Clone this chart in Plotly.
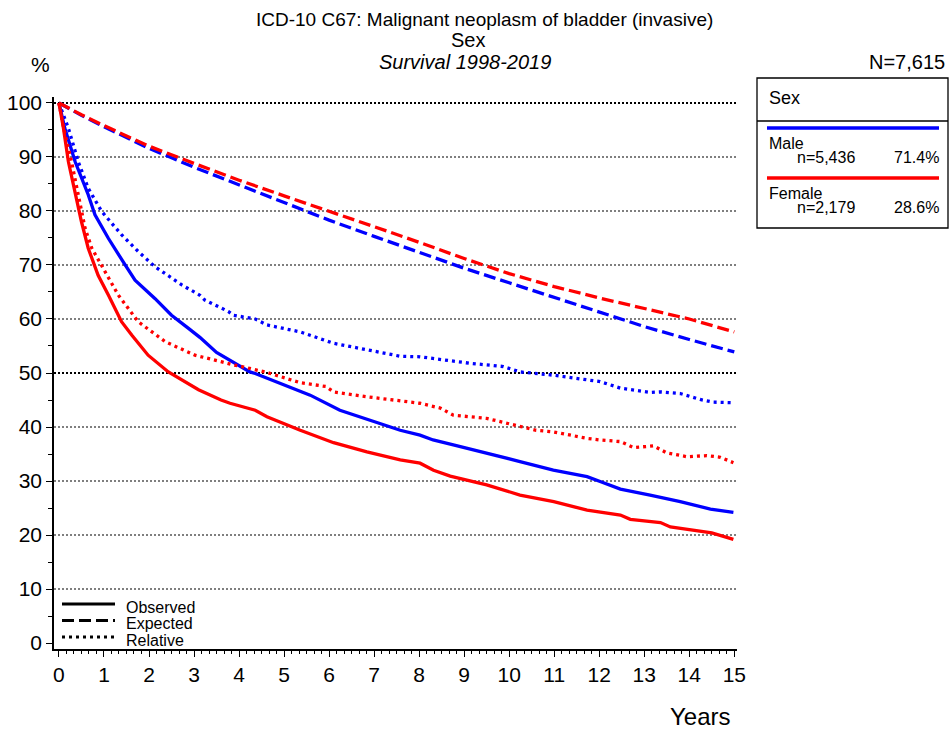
import plotly.graph_objects as go

# ---- survival data (years, percent) ----
male_obs_t = [0, 0.13, 0.36, 0.65, 0.8, 1.10, 1.47, 1.69, 2.13, 2.5, 2.87, 3.13, 3.5, 4.24, 4.36,
              4.91, 5.58, 6.24, 6.91, 7.58, 8.02, 8.31, 8.76, 9.5, 10.24, 10.98, 11.73, 12.02,
              12.47, 13.13, 13.8, 14.47, 14.98]
male_obs = [100, 95.3, 89.1, 83.0, 79.3, 74.9, 70.0, 67.2, 63.8, 60.7, 58.3, 56.6, 53.8, 50.2, 49.9,
            48.1, 45.9, 43.1, 41.3, 39.4, 38.5, 37.6, 36.7, 35.2, 33.6, 32.0, 30.8, 29.9,
            28.5, 27.4, 26.2, 24.8, 24.2]

female_obs_t = [0, 0.1, 0.21, 0.36, 0.5, 0.65, 0.87, 1.1, 1.39, 1.62, 1.98, 2.43, 3.02, 3.1, 3.6,
                3.8, 4.36, 4.62, 5.36, 6.1, 6.84, 7.58, 8.02, 8.32, 8.69, 9.5, 10.24, 10.99,
                11.73, 12.02, 12.47, 12.69, 13.36, 13.58, 14.24, 14.5, 14.98]
female_obs = [100, 95.3, 89.1, 83.0, 78.0, 73.1, 68.1, 64.4, 59.5, 57.0, 53.3, 50.2, 47.2, 46.9, 45.0,
              44.4, 43.1, 41.9, 39.4, 37.1, 35.4, 33.9, 33.3, 32.0, 30.9, 29.3, 27.4, 26.2,
              24.6, 24.3, 23.7, 22.9, 22.3, 21.5, 20.6, 20.4, 19.2]

exp_t = [0, 0.5, 1, 1.5, 2, 3, 4, 5, 6, 7, 8, 9, 10, 11, 12, 13, 14, 15]
male_exp = [100, 97.7, 95.6, 93.6, 91.6, 88.1, 84.8, 81.5, 78.3, 75.3, 72.3, 69.4, 66.7, 64.0,
            61.3, 58.6, 56.2, 53.9]
female_exp = [100, 97.8, 95.8, 93.9, 92.0, 88.8, 85.7, 82.8, 80.0, 77.1, 74.2, 71.2, 68.4, 66.0,
              63.9, 61.9, 60.0, 57.6]

male_rel_t = [0, 0.21, 0.43, 0.65, 0.95, 1.39, 1.76, 2.13, 2.73, 3.13, 3.24, 3.76, 3.87, 4.36, 4.62,
              5.36, 6.1, 6.84, 7.58, 8.02, 8.31, 8.76, 9.13, 9.87, 10.24, 10.98, 11.73, 12.02,
              12.47, 13.13, 13.36, 13.8, 14.24, 14.53, 14.98]
male_rel = [100, 95.3, 89.1, 84.2, 79.9, 75.6, 72.5, 69.7, 66.3, 64.4, 63.5, 61.4, 60.7, 60.0, 58.9,
            57.6, 55.5, 54.3, 53.1, 53.0, 52.7, 52.1, 51.8, 51.2, 50.2, 49.6, 48.7, 48.4,
            47.2, 46.4, 46.5, 46.2, 45.1, 44.6, 44.5]

female_rel_t = [0, 0.1, 0.28, 0.43, 0.58, 0.73, 1.02, 1.32, 1.76, 2.36, 3.02, 3.13, 3.6, 3.87, 4.06,
                4.62, 5.36, 5.93, 6.1, 6.84, 7.58, 8.02, 8.47, 8.76, 9.5, 10.02, 10.6, 10.98,
                11.73, 12.02, 12.47, 12.76, 13.21, 13.5, 13.95, 14.39, 14.69, 14.98]
female_rel = [100, 95.5, 89.1, 83.0, 76.8, 73.1, 68.8, 64.4, 59.5, 55.8, 53.3, 53.1, 52.1, 51.5, 51.2,
              50.1, 48.2, 47.5, 46.5, 45.6, 44.9, 44.4, 43.5, 42.2, 41.6, 40.6, 39.4, 39.1,
              37.9, 37.6, 37.3, 36.2, 36.5, 35.2, 34.5, 34.7, 34.4, 33.4]

groups = ["Male", "Female"]
group_n = ["n=5,436", "n=2,179"]
group_pct = ["71.4%", "28.6%"]
colors = {"Male": "#0000ff", "Female": "#ff0000"}

x_ticks = list(range(0, 16))
y_ticks = list(range(0, 101, 10))

FONT = "Liberation Sans, Arial, sans-serif"
DASH = "12px,5px"
DOT = "3px,4px"

# ---- page geometry (pixels) ----
W, H = 949, 731
L, R, T, B = 54, 212, 97, 82
pw, ph = W - L - R, H - T - B


def px(x):
    return (x - L) / pw


def py(y):
    return (H - B - y) / ph


fig = go.Figure()

# male curves first so the female curves sit on top
for g, t, v, dash in [
    ("Male", exp_t, male_exp, DASH),
    ("Male", male_rel_t, male_rel, DOT),
    ("Male", male_obs_t, male_obs, "solid"),
    ("Female", exp_t, female_exp, DASH),
    ("Female", female_rel_t, female_rel, DOT),
    ("Female", female_obs_t, female_obs, "solid"),
]:
    fig.add_trace(go.Scatter(
        x=t, y=v, mode="lines", showlegend=False, hoverinfo="skip",
        line=dict(color=colors[g], width=3.3, dash=dash),
    ))

shapes = []
# dotted horizontal grid
for yv in y_ticks[1:]:
    bold = yv in (50, 100)
    shapes.append(dict(type="line", xref="paper", yref="y", x0=0, x1=1, y0=yv, y1=yv,
                       line=dict(color="black", width=2 if bold else 1.1, dash="2px,2px"),
                       layer="below"))

# group legend box
shapes.append(dict(type="rect", xref="paper", yref="paper", x0=px(757), x1=px(948),
                   y0=py(78), y1=py(228), line=dict(color="black", width=1.3)))
shapes.append(dict(type="line", xref="paper", yref="paper", x0=px(757), x1=px(948),
                   y0=py(121), y1=py(121), line=dict(color="black", width=1.3)))
ann = []
ann.append(dict(text="Sex", x=px(767), y=py(98), xanchor="left", yanchor="middle",
                font=dict(size=18)))
for i, g in enumerate(groups):
    y0 = 128 + 50 * i
    shapes.append(dict(type="line", xref="paper", yref="paper", x0=px(767), x1=px(939),
                       y0=py(y0), y1=py(y0), line=dict(color=colors[g], width=3.5)))
    ann.append(dict(text=g, x=px(767), y=py(y0 + 15), xanchor="left", yanchor="middle",
                    font=dict(size=16)))
    ann.append(dict(text=group_n[i], x=px(795), y=py(y0 + 29), xanchor="left",
                    yanchor="middle", font=dict(size=16)))
    ann.append(dict(text=group_pct[i], x=px(941), y=py(y0 + 29), xanchor="right",
                    yanchor="middle", font=dict(size=16)))

# line-style key
for i, (lab, dash) in enumerate([("Observed", "solid"), ("Expected", DASH), ("Relative", DOT)]):
    yy = 604 + 16.5 * i
    shapes.append(dict(type="line", xref="paper", yref="paper", x0=px(62), x1=px(115),
                       y0=py(yy), y1=py(yy), line=dict(color="black", width=3, dash=dash)))
    ann.append(dict(text=lab, x=px(124), y=py(yy + 3), xanchor="left", yanchor="middle",
                    font=dict(size=16)))

# titles and axis captions
ann += [
    dict(text="ICD-10 C67: Malignant neoplasm of bladder (invasive)", x=px(484), y=py(19),
         xanchor="center", yanchor="middle", font=dict(size=19)),
    dict(text="Sex", x=px(468), y=py(40), xanchor="center", yanchor="middle",
         font=dict(size=20)),
    dict(text="<i>Survival 1998-2019</i>", x=px(465), y=py(62), xanchor="center",
         yanchor="middle", font=dict(size=20)),
    dict(text="N=7,615", x=px(947), y=py(62), xanchor="right", yanchor="middle",
         font=dict(size=20)),
    dict(text="%", x=px(40), y=py(64), xanchor="center", yanchor="middle",
         font=dict(size=21)),
    dict(text="Years", x=px(700), y=py(716), xanchor="center", yanchor="middle",
         font=dict(size=24)),
]
for a in ann:
    a.update(xref="paper", yref="paper", showarrow=False)
    a["font"].update(family=FONT, color="black")

fig.update_layout(
    width=W, height=H,
    margin=dict(l=L, r=R, t=T, b=B, pad=0, autoexpand=False),
    paper_bgcolor="white", plot_bgcolor="white",
    font=dict(family=FONT, color="black"),
    shapes=shapes, annotations=ann,
    xaxis=dict(range=[-0.11, 15.06], tickvals=x_ticks, ticks="outside", ticklen=6,
               tickwidth=1.3, tickcolor="black", showline=True, linecolor="black",
               linewidth=1.5, showgrid=False, zeroline=False, automargin=False,
               tickfont=dict(size=21, family=FONT, color="black"),
               minor=dict(dtick=1 / 6, tick0=0, ticks="outside", ticklen=3,
                          tickwidth=1, tickcolor="black", showgrid=False)),
    yaxis=dict(range=[-1.1, 101.1], tickvals=y_ticks, ticks="outside", ticklen=6,
               tickwidth=1.3, tickcolor="black", showline=True, linecolor="black",
               linewidth=1.5, showgrid=False, zeroline=False, automargin=False,
               tickfont=dict(size=21, family=FONT, color="black"),
               minor=dict(dtick=5, tick0=0, ticks="outside", ticklen=4,
                          tickwidth=1, tickcolor="black", showgrid=False)),
)

fig.write_html("out.html")
